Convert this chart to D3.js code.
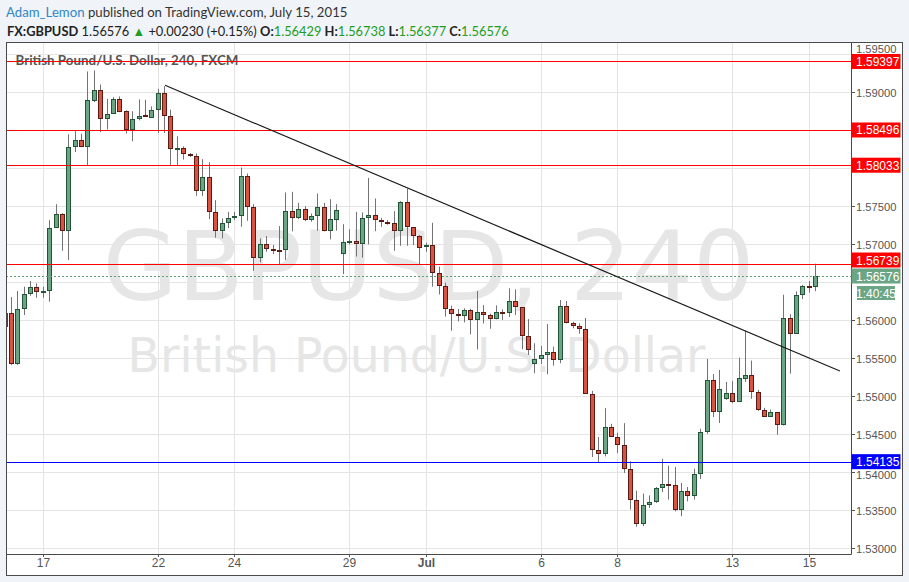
<!DOCTYPE html>
<html><head><meta charset="utf-8">
<script src="https://cdn.jsdelivr.net/npm/d3@7"></script>
<style>body{margin:0;background:#f0f3f7;} svg{display:block}</style>
</head><body><svg id="c" width="909" height="582"></svg>
<script>
// ---- DATA ----
const firstBar = -6; // bar index of first candle (0 = first 4h bar of June 17)
const open = [1.55910,1.56089,1.55416,1.56138,1.56335,1.56435,1.56365,1.56378,1.57202,1.57398,1.57170,1.58272,1.58360,1.58272,1.58876,1.59016,1.58645,1.58710,1.58907,1.58741,1.58495,1.58645,1.58688,1.58658,1.58763,1.58986,1.58680,1.58251,1.58264,1.58186,1.58154,1.57700,1.57884,1.57412,1.57168,1.57267,1.57333,1.57363,1.57897,1.57477,1.56808,1.56992,1.56930,1.56917,1.56913,1.57429,1.57341,1.57451,1.57311,1.57359,1.57477,1.57163,1.57315,1.56861,1.57018,1.57035,1.57000,1.57333,1.57376,1.57311,1.57289,1.57272,1.57170,1.57546,1.57215,1.57097,1.56953,1.56979,1.56612,1.56451,1.56138,1.56073,1.56047,1.56125,1.56003,1.56099,1.56060,1.56015,1.56103,1.56086,1.56243,1.56164,1.55784,1.55416,1.55482,1.55534,1.55574,1.55477,1.56177,1.55954,1.55923,1.55875,1.55031,1.54288,1.54236,1.54590,1.54459,1.54349,1.54039,1.53632,1.53317,1.53561,1.53606,1.53789,1.53842,1.53829,1.53501,1.53750,1.53684,1.53977,1.54524,1.55206,1.54787,1.54957,1.55036,1.54926,1.55228,1.55272,1.55057,1.54820,1.54724,1.54787,1.54611,1.56024,1.55814,1.56330,1.56440,1.56429];
const high = [1.56120,1.56299,1.56378,1.56435,1.56510,1.56480,1.56435,1.57311,1.57520,1.57402,1.58439,1.58482,1.58448,1.59266,1.59279,1.59095,1.58907,1.58928,1.58937,1.58754,1.58741,1.58898,1.58894,1.58806,1.59038,1.59072,1.58763,1.58413,1.58281,1.58193,1.58186,1.58112,1.58072,1.57573,1.57333,1.57420,1.57420,1.58002,1.57923,1.57521,1.57071,1.57101,1.56983,1.57232,1.57675,1.57683,1.57538,1.57494,1.57398,1.57661,1.57538,1.57586,1.57521,1.57258,1.57189,1.57420,1.57412,1.57866,1.57595,1.57341,1.57311,1.57429,1.57560,1.57727,1.57215,1.57114,1.57014,1.57276,1.56700,1.56488,1.56185,1.56142,1.56151,1.56146,1.56378,1.56194,1.56081,1.56190,1.56138,1.56414,1.56401,1.56164,1.56010,1.55692,1.55656,1.55945,1.55647,1.56260,1.56247,1.55975,1.55954,1.56024,1.55066,1.54459,1.54839,1.54633,1.54515,1.54642,1.54138,1.53754,1.53715,1.53692,1.53802,1.54174,1.54082,1.54065,1.53855,1.53802,1.54043,1.54568,1.55485,1.55288,1.55341,1.55184,1.55197,1.55503,1.55858,1.55464,1.55079,1.54843,1.54820,1.54787,1.56330,1.56073,1.56374,1.56461,1.56510,1.56738];
const low = [1.55880,1.55407,1.55407,1.56063,1.56317,1.56290,1.56290,1.56238,1.57206,1.56908,1.56786,1.58207,1.58270,1.58032,1.58863,1.58469,1.58504,1.58710,1.58731,1.58448,1.58348,1.58623,1.58680,1.58658,1.58456,1.58456,1.58032,1.58032,1.58107,1.58140,1.57629,1.57629,1.57324,1.57081,1.57071,1.57206,1.57311,1.57224,1.57302,1.56645,1.56756,1.56895,1.56865,1.56733,1.56786,1.57163,1.57324,1.57297,1.57290,1.57172,1.57163,1.57057,1.57172,1.56602,1.56992,1.56832,1.56819,1.56992,1.57166,1.57223,1.57250,1.56908,1.56974,1.56974,1.56983,1.56730,1.56895,1.56435,1.56333,1.56042,1.55857,1.55979,1.55966,1.55808,1.55610,1.55952,1.55883,1.56007,1.55998,1.56037,1.56063,1.55613,1.55538,1.55298,1.55420,1.55285,1.55398,1.55430,1.55954,1.55888,1.55818,1.55023,1.54196,1.54118,1.54204,1.54459,1.54249,1.53987,1.53505,1.53278,1.53287,1.53527,1.53593,1.53737,1.53636,1.53482,1.53417,1.53614,1.53636,1.53908,1.54502,1.54722,1.54643,1.54948,1.54905,1.54926,1.55184,1.54961,1.54802,1.54724,1.54722,1.54489,1.54611,1.55293,1.55814,1.56273,1.56357,1.56377];
const close = [1.56086,1.55420,1.56138,1.56335,1.56435,1.56361,1.56374,1.57202,1.57398,1.57170,1.58272,1.58360,1.58272,1.58885,1.59016,1.58645,1.58710,1.58907,1.58731,1.58495,1.58645,1.58684,1.58680,1.58763,1.58986,1.58680,1.58251,1.58264,1.58186,1.58154,1.57700,1.57884,1.57412,1.57168,1.57267,1.57333,1.57363,1.57897,1.57477,1.56808,1.56992,1.56926,1.56913,1.56910,1.57429,1.57341,1.57451,1.57311,1.57359,1.57477,1.57163,1.57320,1.57438,1.57018,1.57035,1.57000,1.57333,1.57376,1.57307,1.57281,1.57272,1.57170,1.57546,1.57215,1.57097,1.56948,1.56979,1.56612,1.56451,1.56138,1.56073,1.56047,1.56125,1.56003,1.56099,1.56060,1.56015,1.56099,1.56086,1.56243,1.56164,1.55784,1.55600,1.55482,1.55534,1.55574,1.55477,1.56177,1.55954,1.55923,1.55875,1.55031,1.54288,1.54236,1.54590,1.54459,1.54349,1.54039,1.53632,1.53317,1.53566,1.53606,1.53789,1.53842,1.53829,1.53501,1.53750,1.53684,1.53977,1.54524,1.55206,1.54787,1.55088,1.55036,1.54926,1.55233,1.55272,1.55057,1.54820,1.54724,1.54787,1.54611,1.56024,1.55814,1.56330,1.56440,1.56429,1.56576];

const dateTickBars = [0,18,30,48,60,78,90,108,120];
const dateTickLabels = ["17","22","24","29","Jul","6","8","13","15"];
const priceTicks = [1.530,1.535,1.540,1.545,1.550,1.555,1.560,1.565,1.570,1.575,1.580,1.585,1.590,1.595];
const resistanceLevels = [1.59397,1.58496,1.58033,1.56739];
const supportLevels = [1.54135];
const lastPrice = 1.56576;
const countdown = "1:40:45";
const trendLine = [[19.07,1.59084],[124.8,1.55327]];

// ---- LAYOUT ----
const svg = d3.select("#c");
const P = {l:6, r:851, t:42, b:554, outerR:902, outerB:575};
const x = d3.scaleLinear().domain([-5.844,126.54]).range([P.l,P.r]);
const y = d3.scaleLinear().domain([1.52921,1.59653]).range([P.b,P.t]);
const fmt = d3.format(".5f");
const UP="#6ba583", UPB="#225437", DN="#d75442", DNB="#5b1a13", WICK="#737375";

function fit(sel,w){const L=sel.node().getComputedTextLength();const fs=parseFloat(sel.attr("font-size"));sel.attr("font-size",fs*w/L);}

// header
const h1 = svg.append("text").attr("x",6).attr("y",17).attr("font-family","Lato, 'Open Sans', sans-serif").attr("font-size",15).attr("fill","#333");
h1.append("tspan").attr("fill","#2f87c8").text("Adam_Lemon");
h1.append("tspan").text(" published on TradingView.com, July 15, 2015");
fit(h1,342);
const h2 = svg.append("text").attr("x",7).attr("y",35.5).attr("font-family","Lato, 'Open Sans', sans-serif").attr("font-size",15).attr("fill","#222");
const G="#1f9e1f";
[["FX:GBPUSD",true,null],[" 1.56576 ",false,null],["▲",false,G],[" +0.00230 (+0.15%) ",false,null],["O:",true,null],["1.56429",false,G],[" H:",true,null],["1.56738",false,G],[" L:",true,null],["1.56377",false,G],[" C:",true,null],["1.56576",false,G]].forEach(([t,b,c])=>{
  const s=h2.append("tspan").text(t); if(b) s.attr("font-weight","bold"); if(c) s.attr("fill",c);
});
fit(h2,502);

// panel
svg.append("rect").attr("x",P.l+0.5).attr("y",P.t+0.5).attr("width",P.outerR-P.l).attr("height",P.outerB-P.t).attr("fill","#fff").attr("stroke","#4a4a4a");

svg.append("defs").append("clipPath").attr("id","pc").append("rect").attr("x",P.l+1).attr("y",P.t+1).attr("width",P.r-P.l-1).attr("height",P.b-P.t-1);
const plot = svg.append("g").attr("clip-path","url(#pc)");

// grid
plot.selectAll(".hg").data(priceTicks).join("line").attr("x1",P.l).attr("x2",P.r)
  .attr("y1",d=>Math.round(y(d))+0.5).attr("y2",d=>Math.round(y(d))+0.5).attr("stroke","#e4e4e4");
plot.selectAll(".vg").data(dateTickBars).join("line").attr("y1",P.t).attr("y2",P.b)
  .attr("x1",d=>Math.floor(x(d))+0.5).attr("x2",d=>Math.floor(x(d))+0.5).attr("stroke","#e4e4e4");

// watermark
const cxm = (P.l+P.r)/2;
const w1 = plot.append("text").attr("x",cxm).attr("y",300).attr("text-anchor","middle").attr("font-family","DejaVu Sans").attr("font-size",96).attr("fill","#e6e6e6").text("GBPUSD, 240");
fit(w1,652);
const w2 = plot.append("text").attr("x",cxm-12).attr("y",372).attr("text-anchor","middle").attr("font-family","DejaVu Sans").attr("font-size",48).attr("fill","#e6e6e6").text("British Pound/U.S. Dollar");
fit(w2,578);

// title
const tt = plot.append("text").attr("x",15.5).attr("y",64.5).attr("font-family","Lato, 'Open Sans', sans-serif").attr("font-weight","bold").attr("font-size",14).attr("fill","#555").text("British Pound/U.S. Dollar, 240, FXCM");
fit(tt,223);

// candles
const bars = open.map((o,i)=>({k:i+firstBar,o,h:high[i],l:low[i],c:close[i]}));
const cg = plot.append("g");
bars.forEach(d=>{
  const cx = Math.floor(x(d.k));
  const up = d.c>=d.o;
  cg.append("line").attr("x1",cx+0.5).attr("x2",cx+0.5).attr("y1",y(d.h)).attr("y2",y(d.l)).attr("stroke",WICK).attr("stroke-width",1);
  let yt=Math.round(y(Math.max(d.o,d.c))), yb=Math.round(y(Math.min(d.o,d.c)));
  if(yb-yt<=2){
    cg.append("rect").attr("x",cx-2).attr("width",5).attr("y",yt).attr("height",Math.max(yb-yt,2)).attr("fill",up?UPB:DNB);
  } else {
    cg.append("rect").attr("x",cx-1.5).attr("width",4).attr("y",yt+0.5).attr("height",yb-yt-1).attr("fill",up?UP:DN).attr("stroke",up?UPB:DNB).attr("stroke-width",1);
  }
});

// level lines
plot.selectAll(".res").data(resistanceLevels).join("line").attr("x1",P.l).attr("x2",P.r)
  .attr("y1",d=>Math.round(y(d))+0.5).attr("y2",d=>Math.round(y(d))+0.5).attr("stroke","#ff0000").attr("stroke-width",1);
plot.selectAll(".sup").data(supportLevels).join("line").attr("x1",P.l).attr("x2",P.r)
  .attr("y1",d=>Math.round(y(d))+0.5).attr("y2",d=>Math.round(y(d))+0.5).attr("stroke","#0000ff").attr("stroke-width",1);
plot.append("line").attr("x1",P.l).attr("x2",P.r).attr("y1",Math.round(y(lastPrice))+0.5).attr("y2",Math.round(y(lastPrice))+0.5)
  .attr("stroke","#5f9e78").attr("stroke-dasharray","2,2");
// trend line
plot.append("line").attr("x1",x(trendLine[0][0])).attr("y1",y(trendLine[0][1])).attr("x2",x(trendLine[1][0])).attr("y2",y(trendLine[1][1]))
  .attr("stroke","#1a1a1a").attr("stroke-width",1.2);

// axes lines
svg.append("line").attr("x1",P.r+0.5).attr("x2",P.r+0.5).attr("y1",P.t).attr("y2",P.b+0.5).attr("stroke","#4a4a4a");
svg.append("line").attr("x1",P.l).attr("x2",P.r+0.5).attr("y1",P.b+0.5).attr("y2",P.b+0.5).attr("stroke","#4a4a4a");

// label box positions (with collision avoidance against the last-price box)
const lastY = y(lastPrice), BH=15;
const boxes = [];
resistanceLevels.forEach(p=>{ let c=y(p); if(Math.abs(c-lastY)<BH+1) c=lastY-BH-1; boxes.push({p,c,color:"#ff0000"}); });
supportLevels.forEach(p=>boxes.push({p,c:y(p),color:"#0000ff"}));
boxes.push({p:lastPrice,c:lastY,color:"#6ba583"});
const cdTop = lastY+BH/2+2.5, cdH = 14;

// price axis ticks & labels (hidden where a price box covers them, nudged when only touching)
const pa = svg.append("g");
priceTicks.forEach(p=>{
  const yy=Math.round(y(p))+0.5;
  pa.append("line").attr("x1",P.r).attr("x2",P.r+4).attr("y1",yy).attr("y2",yy).attr("stroke","#555");
  let base = yy+4, hide=false;
  if(yy>cdTop-4 && yy<cdTop+cdH+4) hide=true;
  boxes.forEach(b=>{
    const dd = yy-b.c;
    if(Math.abs(dd)<6) hide=true;
    else if(dd<0) base=Math.min(base,b.c-BH/2-1);
    else if(dd<16) base=Math.max(base,b.c+BH/2+9.5);
  });
  if(!hide)
    pa.append("text").attr("x",856).attr("y",base).attr("font-family","Liberation Sans, Arial, sans-serif").attr("font-size",11.2).attr("fill","#555").text(fmt(p));
});

boxes.forEach(b=>{
  pa.append("rect").attr("x",P.r+0.5).attr("y",b.c-BH/2).attr("width",49).attr("height",BH).attr("fill",b.color);
  pa.append("text").attr("x",856).attr("y",b.c+4.5).attr("font-family","Liberation Sans, Arial, sans-serif").attr("font-size",12).attr("fill","#fff").text(fmt(b.p));
});
pa.append("rect").attr("x",857).attr("y",cdTop).attr("width",38).attr("height",cdH).attr("fill","#6ba583");
pa.append("text").attr("x",876).attr("y",cdTop+11.5).attr("text-anchor","middle").attr("font-family","Liberation Sans, Arial, sans-serif").attr("font-size",12).attr("fill","#fff").text(countdown);

// time axis
const ta = svg.append("g");
dateTickBars.forEach((b,i)=>{
  const xx=Math.floor(x(b))+0.5;
  ta.append("line").attr("x1",xx).attr("x2",xx).attr("y1",P.b).attr("y2",P.b+3).attr("stroke","#555");
  ta.append("text").attr("x",xx).attr("y",567).attr("text-anchor","middle").attr("font-family","'Liberation Sans Narrow', 'Liberation Sans', Arial, sans-serif")
    .attr("font-size",12).attr("font-weight",dateTickLabels[i]==="Jul"?"bold":"normal").attr("fill","#555").text(dateTickLabels[i]);
});
</script></body></html>
